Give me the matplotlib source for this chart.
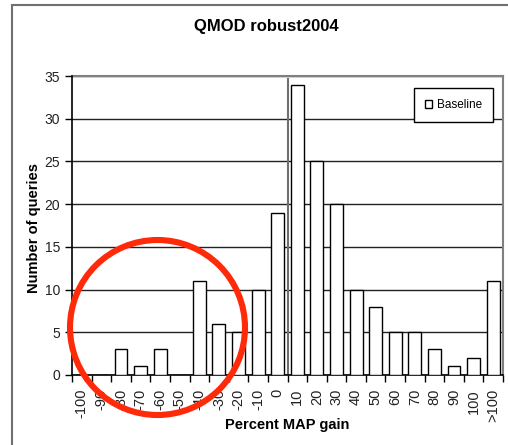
import matplotlib
matplotlib.use("Agg")
import matplotlib.pyplot as plt
import numpy as np
from matplotlib.patches import Ellipse, Rectangle

plt.rcParams["font.family"] = ["Liberation Sans", "DejaVu Sans"]

categories = ["-100", "-90", "-80", "-70", "-60", "-50", "-40", "-30", "-20", "-10",
              "0", "10", "20", "30", "40", "50", "60", "70", "80", "90", "100", ">100"]
counts = [0, 0, 3, 1, 3, 0, 11, 6, 5, 10, 19, 34, 25, 20, 10, 8, 5, 5, 3, 1, 2, 11]
y_ticks = [0, 5, 10, 15, 20, 25, 30, 35]

W, H = 508, 445
fig = plt.figure(figsize=(W / 100, H / 100), dpi=100)

# outer chart frame (cropped at right/bottom)
fig.patches.append(Rectangle((12 / W, -0.1), 1.2, 1 - 5 / H + 0.1, transform=fig.transFigure,
                             fill=False, edgecolor="#707070", linewidth=1.5, zorder=0))

ax = fig.add_axes([72 / W, 1 - 375 / H, 431 / W, 299 / H])
x = np.arange(len(categories))
ax.bar(x, counts, width=0.66, color="white", edgecolor="black", linewidth=1.0,
       label="Baseline", zorder=3)

ax.set_xlim(-0.5, len(categories) - 0.5)
ax.set_ylim(0, 35)
ax.set_yticks(y_ticks)
ax.set_yticklabels([str(v) for v in y_ticks], fontsize=10, color="#222222")
ax.yaxis.grid(True, color="#222222", linewidth=1.0)
ax.set_axisbelow(True)

# category labels at centres, tick marks at boundaries
ax.set_xticks(x)
ax.set_xticklabels(categories, rotation=90, fontsize=10.5, color="#222222")
ax.tick_params(axis="x", length=0, pad=10)
ax.set_xticks(np.arange(-0.5, len(categories)), minor=True)
ax.tick_params(axis="x", which="minor", length=5, width=1, direction="out")
ax.tick_params(axis="y", length=5, width=1, direction="out")

ax.spines["top"].set_visible(False)
ax.spines["right"].set_color("#808080")
ax.spines["right"].set_linewidth(1.5)
ax.spines["left"].set_linewidth(1.2)
ax.spines["bottom"].set_linewidth(1.2)

# top gridline is grey like the frame
ax.axhline(35, color="#808080", linewidth=1.5, zorder=1, clip_on=False)

# divider between 0 and 10
ax.axvline(10.5, ymin=0, ymax=34.65 / 35, color="#707070", linewidth=1.5, zorder=2)

fig.text(266 / W, 1 - 26 / H, "QMOD robust2004", ha="center", va="center",
         fontsize=12, fontweight="bold")
fig.text(34 / W, 1 - 228 / H, "Number of queries", ha="center", va="center",
         rotation=90, fontsize=10.5, fontweight="bold")
fig.text(287 / W, 1 - 425 / H, "Percent MAP gain", ha="center", va="center",
         fontsize=10.5, fontweight="bold")

leg = ax.legend(loc="upper right", bbox_to_anchor=(493 / W, 1 - 88 / H),
                bbox_transform=fig.transFigure, borderaxespad=0, fontsize=8.5,
                frameon=True, fancybox=False, shadow=False, handlelength=0.6,
                handleheight=0.7, handletextpad=0.4, borderpad=0.95)
leg.get_frame().set_edgecolor("black")
leg.get_frame().set_linewidth(1.0)
leg.get_frame().set_alpha(1)

# red highlight circle
fig.patches.append(Ellipse((157.5 / W, 1 - 327.5 / H), 175 / W, 175 / H,
                           transform=fig.transFigure, fill=False,
                           edgecolor="#ff2a0a", linewidth=4.4, zorder=10))

fig.savefig("out.png", dpi=100)
